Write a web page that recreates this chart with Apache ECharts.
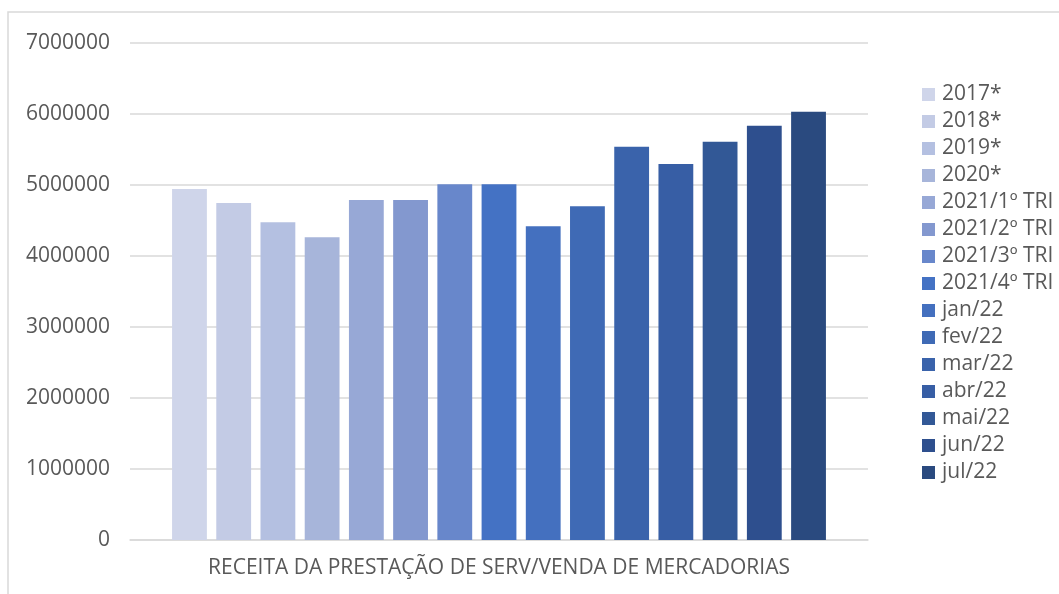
<!DOCTYPE html>
<html>
<head>
<meta charset="utf-8">
<script src="https://cdn.jsdelivr.net/npm/echarts@6/dist/echarts.min.js"></script>
<style>
    html, body { margin: 0; padding: 0; background: #fff; }
    #chart { width: 1059px; height: 594px; }
</style>
</head>
<body>
<div id="chart"></div>
<script>
var categories = ['RECEITA DA PRESTAÇÃO DE SERV/VENDA DE MERCADORIAS'];
var seriesNames = ['2017*', '2018*', '2019*', '2020*', '2021/1º TRI', '2021/2º TRI', '2021/3º TRI', '2021/4º TRI',
    'jan/22', 'fev/22', 'mar/22', 'abr/22', 'mai/22', 'jun/22', 'jul/22'];
var seriesValues = [4943000, 4745000, 4477000, 4264000, 4788000, 4788000, 5010000, 5010000,
    4420000, 4700000, 5537000, 5297000, 5608000, 5834000, 6030000];
var seriesColors = ['#CFD5EA', '#C3CBE5', '#B4C0E1', '#A7B5DA', '#97A8D6', '#8398CF', '#6887CB', '#4472C4',
    '#4470BF', '#3F6AB5', '#3A63AB', '#375EA5', '#325896', '#2E4F8E', '#2A4A7F'];

var font = 'Open Sans, Noto Sans, sans-serif';

var chart = echarts.init(document.getElementById('chart'));

var series = [];
for (var i = 0; i < seriesNames.length; i++) {
    series.push({
        name: seriesNames[i],
        type: 'bar',
        barGap: '27%',
        barCategoryGap: '11.4%',
        itemStyle: { color: seriesColors[i] },
        data: [seriesValues[i]]
    });
}

var option = {
    animation: false,
    backgroundColor: '#fff',
    color: seriesColors,
    graphic: [{
        type: 'rect',
        shape: { x: 8, y: 12, width: 1100, height: 650 },
        style: { fill: 'none', stroke: '#D9D9D9', lineWidth: 1.5 },
        silent: true
    }],
    grid: { left: 130, right: 191, top: 43, bottom: 54 },
    legend: {
        orient: 'vertical',
        left: 917,
        top: 79,
        itemWidth: 13,
        itemHeight: 13,
        itemGap: 6,
        icon: 'rect',
        textStyle: { color: '#595959', fontSize: 21, lineHeight: 20, fontFamily: font, padding: [0, 0, 0, 2] },
        data: seriesNames
    },
    xAxis: {
        type: 'category',
        data: categories,
        axisLine: { lineStyle: { color: '#D9D9D9', width: 1.5 } },
        axisTick: { show: false },
        axisLabel: { color: '#595959', fontSize: 21, fontFamily: font, margin: 18 }
    },
    yAxis: {
        type: 'value',
        min: 0,
        max: 7000000,
        interval: 1000000,
        axisLine: { show: false },
        axisTick: { show: false },
        splitLine: { lineStyle: { color: '#D9D9D9', width: 1.5 } },
        axisLabel: {
            color: '#595959', fontSize: 21, fontFamily: font, margin: 20,
            formatter: function (v) { return String(v); }
        }
    },
    series: series
};
chart.setOption(option);
</script>
</body>
</html>
